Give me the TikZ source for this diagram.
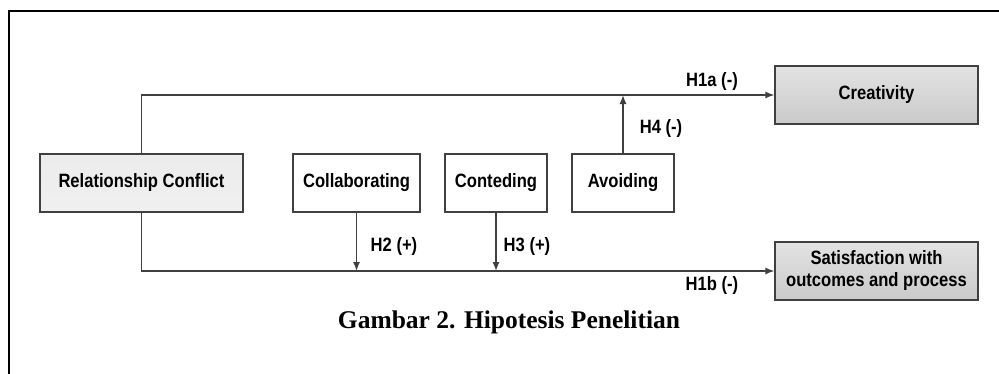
\documentclass[tikz,border=0pt]{standalone}
\usepackage{fontspec}
\setmainfont{Liberation Serif}
\setsansfont{Liberation Sans}
\newfontfamily\boxfont[FakeStretch=0.86]{Liberation Sans}
\usetikzlibrary{positioning,arrows.meta}
\definecolor{lineclr}{HTML}{404040}

\tikzset{
    box/.style={draw=lineclr, line width=1.3pt, minimum height=58pt, align=center,
        font=\boxfont\bfseries\fontsize{19.3}{22}\selectfont, inner sep=2pt},
    shadedbox/.style={box, top color=gray!22, middle color=white!96!gray, bottom color=gray!42},
    lightbox/.style={box, top color=gray!15, middle color=white, bottom color=gray!12},
    link/.style={draw=lineclr, line width=1.3pt},
    arr/.style={link, -{Latex[length=9pt,width=7pt]}},
    hyp/.style={font=\boxfont\bfseries\fontsize{19.3}{22}\selectfont, inner sep=0pt}
}

\begin{document}
\begin{tikzpicture}[x=1pt,y=-1pt]
    \useasboundingbox (0,0) rectangle (999,373);

    % frame
    \draw [line width=2.6pt] (9,390) -- (9,11) -- (1010,11);

    % boxes
    \node (rc) [lightbox, minimum width=203pt] at (141.5,183) {Relationship Conflict};
    \node (col) [box, minimum width=127pt] at (356.5,183) {Collaborating};
    \node (con) [box, minimum width=102pt] at (496,183) {Conteding};
    \node (avo) [box, minimum width=102pt] at (623,183) {Avoiding};
    \node (cre) [shadedbox, minimum width=203pt] at (876.5,95) {Creativity};
    \node (sat) [shadedbox, minimum width=203pt] at (876.5,271) {Satisfaction with\\outcomes and process};

    % main paths
    \draw [arr] (rc.north) |- (cre.west);
    \draw [arr] (rc.south) |- (sat.west);

    % moderators
    \foreach \m in {col,con}{
        \draw [arr] (\m.south) -- (\m.south |- sat.west);
    }
    \draw [arr] (avo.north) -- (avo.north |- cre.west);

    % labels
    \node (h1a) [hyp] at (712,82) {H1a (-)};
    \node (h1b) [hyp] at (712,286) {H1b (-)};
    \node (h2) [hyp] at (394,247) {H2 (+)};
    \node (h3) [hyp] at (527,247) {H3 (+)};
    \node (h4) [hyp] at (661,129) {H4 (-)};

    \node (cap) [font=\bfseries\fontsize{25.5}{30}\selectfont] at (509,322) {Gambar 2. Hipotesis Penelitian};
\end{tikzpicture}
\end{document}
